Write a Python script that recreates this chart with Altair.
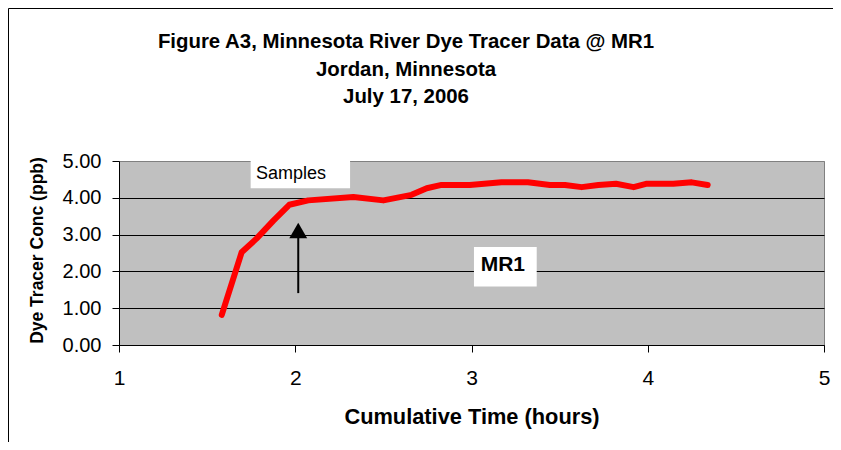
import altair as alt
import pandas as pd

# ---- data ----
time_hours = [1.583, 1.696, 1.78, 1.876, 1.966, 2.074, 2.33, 2.50, 2.66, 2.746, 2.83, 2.99,
              3.17, 3.32, 3.445, 3.53, 3.625, 3.72, 3.82, 3.92, 3.99, 4.145, 4.25, 4.34]
conc_ppb = [0.82, 2.52, 2.89, 3.38, 3.81, 3.93, 4.02, 3.93, 4.08, 4.26, 4.35, 4.35,
            4.42, 4.42, 4.35, 4.35, 4.29, 4.35, 4.38, 4.29, 4.38, 4.38, 4.42, 4.35]
x_ticks = [1, 2, 3, 4, 5]
y_ticks = [0, 1, 2, 3, 4, 5]
title_lines = ["Figure A3, Minnesota River Dye Tracer Data @ MR1",
               "Jordan, Minnesota",
               "July 17, 2006"]

# annotations (data units)
arrow_time = [2.017]
arrow_tail = [1.41]
arrow_neck = [2.95]
arrow_head = [3.11]
box_labels = ["Samples", "MR1"]
box_t1 = [1.747, 3.014]
box_t2 = [2.311, 3.37]
box_c1 = [4.26, 1.59]
box_c2 = [5.04, 2.66]
label_t = [1.777, 3.052]
label_c = [4.52, 2.005]

FONT = "Liberation Sans"
W, H = 705, 184

df = pd.DataFrame({"t": time_hours, "c": conc_ppb})
arrow_df = pd.DataFrame({"t": arrow_time, "c1": arrow_tail, "c2": arrow_neck, "h": arrow_head})
box_df = pd.DataFrame({"label": box_labels, "t1": box_t1, "t2": box_t2, "c1": box_c1, "c2": box_c2,
                       "lt": label_t, "lc": label_c})

xs = alt.Scale(domain=[1, 5], nice=False, zero=False)
ys = alt.Scale(domain=[0, 5], nice=False)

x_axis = alt.Axis(values=x_ticks, format="d", tickSize=7, tickColor="black", domainColor="black",
                  labelFontSize=21, labelFont=FONT, labelColor="black", labelPadding=32,
                  labelBaseline="alphabetic", grid=False, labelOverlap=False, labelFlush=False,
                  title="Cumulative Time (hours)", titleFontSize=21.8, titleFont=FONT,
                  titleFontWeight="bold", titleColor="black", titleY=78, titleX=W / 2,
                  titleBaseline="alphabetic", titleAlign="center")
y_axis = alt.Axis(values=y_ticks, format=".2f", tickSize=7, tickColor="black", domainColor="black",
                  labelFontSize=20, labelFont=FONT, labelColor="black", labelPadding=11,
                  labelOverlap=False, labelBaseline="middle", labelFlush=False,
                  grid=True, gridWidth=1,
                  gridColor=alt.condition("datum.value >= 5", alt.value("#808080"), alt.value("black")),
                  title="Dye Tracer Conc (ppb)", titleFontSize=17.5, titleFont=FONT,
                  titleFontWeight="bold", titleColor="black", titleAngle=-90,
                  titleX=-82, titleY=H / 2 - 3, titleAlign="center", titleBaseline="middle")


def X(field):
    return alt.X(field, type="quantitative", scale=xs, axis=x_axis)


def Y(field):
    return alt.Y(field, type="quantitative", scale=ys, axis=y_axis)


line = alt.Chart(df).mark_line(color="#FF0000", strokeWidth=6, strokeCap="round",
                               strokeJoin="round").encode(x=X("t"), y=Y("c"))

shaft = alt.Chart(arrow_df).mark_rule(color="black", strokeWidth=2).encode(
    x=X("t"), y=Y("c1"), y2="c2:Q")
head = alt.Chart(arrow_df).mark_point(shape="triangle-up", filled=True, color="black",
                                      opacity=1, size=320).encode(x=X("t"), y=Y("h"))

boxes = alt.Chart(box_df).mark_rect(color="white").encode(
    x=X("t1"), x2="t2:Q", y=Y("c1"), y2="c2:Q")
samples_text = alt.Chart(box_df[box_df.label == "Samples"]).mark_text(
    align="left", baseline="alphabetic", font=FONT, fontSize=18, color="black").encode(
    x=X("lt"), y=Y("lc"), text="label:N")
mr1_text = alt.Chart(box_df[box_df.label == "MR1"]).mark_text(
    align="left", baseline="alphabetic", font=FONT, fontSize=21, fontWeight="bold",
    color="black").encode(x=X("lt"), y=Y("lc"), text="label:N")

# chart title: three centred bold lines above the plot
title_baselines = [-113, -85.5, -58]
title_layers = [
    alt.Chart(pd.DataFrame({"line": [txt]})).mark_text(
        align="center", baseline="alphabetic", font=FONT, fontSize=20.4, fontWeight="bold",
        color="black").encode(x=alt.value(287), y=alt.value(yb), text="line:N")
    for txt, yb in zip(title_lines, title_baselines)
]

# outer chart-area border (top and left edges visible in the reference)
border_top = alt.Chart(pd.DataFrame({"k": [0]})).mark_rule(color="black", strokeWidth=1).encode(
    x=alt.value(-110.5), x2=alt.value(W + 9), y=alt.value(-152.5))
border_left = alt.Chart(pd.DataFrame({"k": [0]})).mark_rule(color="black", strokeWidth=1).encode(
    x=alt.value(-110.5), y=alt.value(-152.5), y2=alt.value(H + 97))

chart = alt.layer(line, shaft, head, boxes, samples_text, mr1_text, *title_layers,
                  border_top, border_left).properties(
    width=W, height=H,
    padding={"left": 111, "top": 153, "right": 9, "bottom": 97},
    autosize=alt.AutoSizeParams(type="none"),
    background="white",
).configure_view(fill="#C0C0C0", stroke="#808080", strokeWidth=1)

chart.save("out.html", embed_options={"renderer": "svg", "actions": False})
